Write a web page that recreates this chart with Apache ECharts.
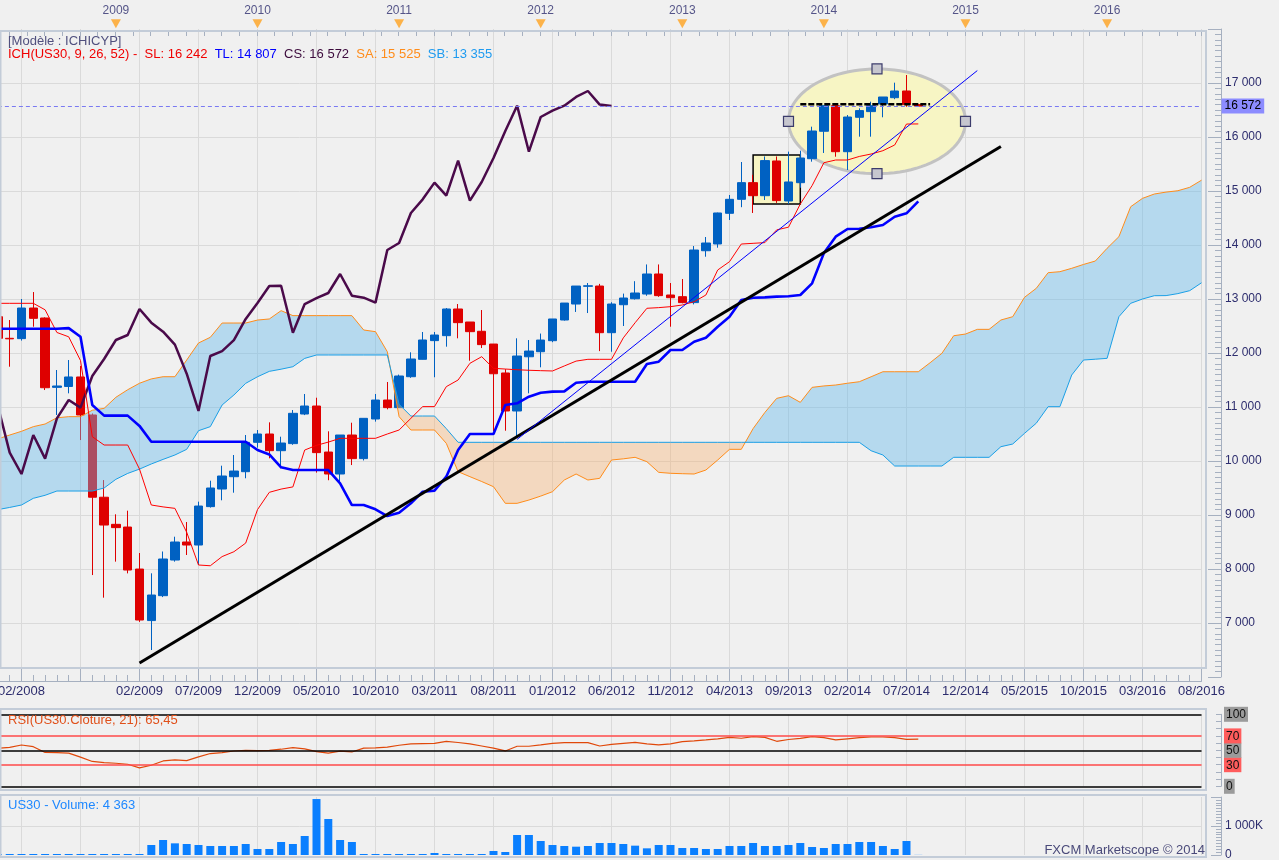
<!DOCTYPE html>
<html><head><meta charset="utf-8">
<script src="https://cdn.jsdelivr.net/npm/echarts@6/dist/echarts.min.js"></script>
<style>html,body{margin:0;padding:0;background:#f0f0f0;}#c{width:1279px;height:860px;}</style>
</head><body><div id="c"></div><script>
const months = ['02/2008','03/2008','04/2008','05/2008','06/2008','07/2008','08/2008','09/2008','10/2008','11/2008','12/2008',
'01/2009','02/2009','03/2009','04/2009','05/2009','06/2009','07/2009','08/2009','09/2009','10/2009','11/2009','12/2009',
'01/2010','02/2010','03/2010','04/2010','05/2010','06/2010','07/2010','08/2010','09/2010','10/2010','11/2010','12/2010',
'01/2011','02/2011','03/2011','04/2011','05/2011','06/2011','07/2011','08/2011','09/2011','10/2011','11/2011','12/2011',
'01/2012','02/2012','03/2012','04/2012','05/2012','06/2012','07/2012','08/2012','09/2012','10/2012','11/2012','12/2012',
'01/2013','02/2013','03/2013','04/2013','05/2013','06/2013','07/2013','08/2013','09/2013','10/2013','11/2013','12/2013',
'01/2014','02/2014','03/2014','04/2014','05/2014','06/2014','07/2014','08/2014','09/2014','10/2014','11/2014','12/2014',
'01/2015','02/2015','03/2015','04/2015','05/2015','06/2015','07/2015','08/2015','09/2015','10/2015','11/2015','12/2015',
'01/2016','02/2016','03/2016','04/2016','05/2016','06/2016','07/2016','08/2016'];

const openP = [12672,12272,12266,12833,12648,11364,11380,11556,10852,9329,8827,8777,7999,7045,7506,8166,8500,8444,9155,9481,9709,9802,10346,10500,10191,10322,10870,11018,10166,9759,10481,10044,10778,11129,10988,11561,11883,12229,12321,12815,12574,12402,12166,11630,10926,11930,12024,12228,12611,12907,13235,13240,12376,12894,13005,13092,13463,13074,13043,12933,13894,14019,14587,14846,15155,14913,15556,14815,15154,15598,16106,16580,15728,16365,16470,16611,16728,16852,16600];
const highP = [12767,12611,13000,13129,12660,11685,11870,11759,10880,9647,9013,9080,8296,7920,8324,8598,8870,9247,9635,9913,10111,10481,10574,10716,10450,10944,11241,11172,10550,10481,10709,10790,11241,11463,11600,12013,12389,12389,12833,12907,12574,12796,12166,11700,12272,12240,12360,12630,12925,13240,13296,13280,12940,13100,13330,13640,13640,13296,13370,13981,14148,14600,14926,15537,15300,15640,15640,15729,15746,16191,16590,16590,16407,16531,16654,16741,17006,17148,16610];
const lowP = [12071,11746,12230,12487,11314,10852,11253,10388,7888,7469,8136,7919,7020,6500,7480,8136,8259,8074,9137,9272,9413,9680,10246,10050,9864,10300,10850,9785,9644,9589,9925,10010,10729,10957,10988,11540,11880,11551,12117,12272,11857,12092,10555,10561,10450,11253,11735,12200,12600,12760,12740,12035,12024,12500,12990,13060,13040,12487,12920,12900,13783,13950,14463,14700,14593,14833,14780,14760,15060,15543,15704,15635,15389,16006,16006,16365,16700,16560,16560];
const closeP = [12272,12262,12833,12642,11357,11389,11556,10852,9329,8814,8766,7981,7055,7518,8185,8500,8444,9166,9500,9722,9814,10346,10500,10191,10333,10883,11018,10155,9759,10481,10044,10790,11129,10988,11574,11889,12241,12333,12815,12562,12395,12155,11616,10926,11944,12036,12240,12630,12925,13240,13245,12376,12907,13018,13111,13463,13062,13024,12933,13907,14037,14593,14846,15155,14913,15563,14822,15167,15611,16111,16580,15728,16370,16489,16580,16741,16852,16600,16572];

const tenkan = [12920,12920,12920,12920,12800,12380,12300,11860,10450,10296,10296,10296,9850,9185,9150,9123,8680,8074,8060,8230,8320,8480,9100,9420,9480,9520,10203,10290,10350,10420,10420,10420,10420,10500,10574,10790,11007,11007,11377,11500,11809,11932,11716,11703,11690,11680,11673,11667,11760,11850,11883,11883,11883,12280,12560,12828,12840,12858,12889,12950,13074,13537,13691,14018,14031,14044,14280,14330,14760,15100,15524,15574,15574,15640,15685,15746,15852,16240,16242];
const kijun = [12450,12450,12450,12450,12450,12450,12460,12300,11037,10840,10840,10840,10650,10357,10357,10357,10357,10357,10357,10357,10357,10357,10203,10122,9883,9833,9833,9833,9833,9586,9185,9185,9105,8981,9043,9216,9432,9451,9710,10203,10500,10500,10500,11037,11068,11191,11265,11284,11290,11450,11468,11468,11468,11468,11468,11796,11839,12055,12055,12209,12283,12487,12672,12981,13024,13030,13044,13050,13074,13290,13850,14154,14296,14300,14330,14370,14524,14586,14807];
const chikou = [11018,10155,9759,10481,10044,10790,11129,10988,11574,11889,12241,12333,12815,12562,12395,12155,11616,10926,11944,12036,12240,12630,12925,13240,13245,12376,12907,13018,13111,13463,13062,13024,12933,13907,14037,14593,14846,15155,14913,15563,14822,15167,15611,16111,16580,15728,16370,16489,16580,16741,16852,16600,16572];
const senkouA = [10410,10481,10550,10636,10685,10800,10821,10821,10940,10975,11180,11320,11440,11520,11561,11561,11870,12185,12291,12555,12555,12555,12610,12630,12784,12692,12692,12692,12692,12692,12692,12426,12395,12024,10821,10574,10574,10574,10327,9802,9710,9620,9524,9216,9216,9277,9350,9432,9648,9759,9648,9679,10018,10040,10068,9987,9790,9772,9765,9759,9833,10018,10216,10216,10600,10900,11160,11209,11086,11364,11390,11407,11440,11468,11560,11653,11653,11653,11653,11820,11994,12320,12351,12438,12438,12611,12672,13031,13198,13487,13506,13568,13640,13703,13939,14154,14709,14864,14944,14980,15005,15068,15200];
const senkouB = [9100,9140,9185,9309,9365,9444,9444,9444,9444,9500,9661,9770,9850,9945,10030,10111,10216,10561,10636,11037,11222,11438,11560,11660,11700,11746,11900,11963,11963,11963,11963,11963,11963,11963,11050,10833,10833,10833,10600,10346,10346,10346,10346,10346,10346,10346,10346,10346,10346,10346,10346,10346,10346,10346,10346,10346,10346,10346,10346,10346,10346,10346,10346,10346,10346,10346,10346,10346,10346,10346,10346,10346,10346,10346,10190,10111,9907,9907,9907,9907,9907,10068,10068,10068,10068,10265,10314,10512,10700,11006,11006,11592,11870,11885,11901,12672,12920,13000,13061,13063,13100,13154,13300];

const rsi = [52.8,54,57.4,55,47,46.8,46,40.5,34.5,32.9,32,30.6,25.5,29.2,35.2,36.6,35.6,40.8,45.5,46.8,49,50,49.5,50,51.5,53.7,52,48.1,46,48.8,47.7,53,53.5,54.5,57,59,59.3,59.5,62.5,60.8,59,56,53,49.1,55.6,55.6,57.5,59.7,60.6,60.6,60.6,56,58.3,59.7,61,58.8,57.4,59,62,63,64.4,66,68,66.7,69,68,62.5,65,66.5,69,67.5,64.4,66,67.5,68.5,68.5,67.6,65.3,65.45];
const volumeK = [35,35,35,35,35,35,35,35,35,35,35,35,35,345,517,402,379,345,310,310,310,379,207,207,448,379,655,1930,1241,517,448,35,35,35,35,35,35,69,35,35,35,35,138,103,690,690,483,345,310,287,310,414,414,379,322,230,345,345,241,241,207,207,310,310,414,310,310,345,414,276,241,379,379,448,448,310,207,483,4.363];

const yearLabels = ['2009','2010','2011','2012','2013','2014','2015','2016'];
const yearMonths = ['12/2008','12/2009','12/2010','12/2011','12/2012','12/2013','12/2014','12/2015'];
const priceTicks = [7000,8000,9000,10000,11000,12000,13000,14000,15000,16000,17000];

const trendBlack = [['02/2009', 6259], ['03/2015', 15824]];
const trendBlue = [['10/2011', 10400], ['01/2015', 17230]];
const supportLine = [['10/2013', 16605], ['09/2014', 16605]];
const boxRect = ['06/2013', '10/2013', 15667, 14759];
const boxEllipse = ['09/2013', '12/2014', 17260, 15320];
const lastClose = 16572;
const headerSA = 15525, headerSB = 13355;
const rsiLast = '65,45', volLast = '4 363';

const FONT = 'Liberation Sans, Arial, sans-serif';
const NAVY = '#2d2d6e';
const AX = '#a6b0c0';
const GRIDC = '#dadada';
const fmt = v => String(v).replace(/\B(?=(\d{3})+(?!\d))/g, ' ');
const ix = m => months.indexOf(m);
const majorFn = i => (i - 2) % 5 === 0;
const labelFn = i => i === 0 || (i >= 12 && (i - 2) % 5 === 0);
const CLOUD_UP = 'rgba(100,186,235,0.42)';
const CLOUD_DN = 'rgba(248,176,111,0.38)';

const GL = -2.1, GR = 77.5;
const chart = echarts.init(document.getElementById('c'));

function renderCloud(params, api) {
  const n = senkouA.length;
  const A = [], B = [], d = [];
  for (let i = 0; i < n; i++) { A.push(api.coord([i, senkouA[i]])); B.push(api.coord([i, senkouB[i]])); d.push(senkouA[i] - senkouB[i]); }
  const polys = [];
  let runA = [A[0]], runB = [B[0]], sign = d[0] >= 0;
  for (let i = 0; i < n - 1; i++) {
    const s1 = d[i + 1] >= 0;
    if (s1 !== sign) {
      const t = d[i] / (d[i] - d[i + 1]);
      const C = [A[i][0] + t * (A[i + 1][0] - A[i][0]), A[i][1] + t * (A[i + 1][1] - A[i][1])];
      runA.push(C); runB.push(C);
      polys.push({ pts: runA.concat(runB.slice().reverse()), sign });
      runA = [C, A[i + 1]]; runB = [C, B[i + 1]]; sign = s1;
    } else { runA.push(A[i + 1]); runB.push(B[i + 1]); }
  }
  polys.push({ pts: runA.concat(runB.slice().reverse()), sign });
  return { type: 'group', children: polys.map(p => ({ type: 'polygon', shape: { points: p.pts }, style: { fill: p.sign ? CLOUD_UP : CLOUD_DN } })) };
}

function renderShapes(params, api) {
  const r0 = api.coord([ix(boxRect[0]), boxRect[2]]), r1 = api.coord([ix(boxRect[1]), boxRect[3]]);
  const e0 = api.coord([ix(boxEllipse[0]), boxEllipse[2]]), e1 = api.coord([ix(boxEllipse[1]), boxEllipse[3]]);
  const cx = (e0[0] + e1[0]) / 2, cy = (e0[1] + e1[1]) / 2, rx = (e1[0] - e0[0]) / 2, ry = (e1[1] - e0[1]) / 2;
  const pts = [];
  for (let k = 0; k < 96; k++) { const a = k / 96 * Math.PI * 2; pts.push([cx + rx * Math.cos(a), cy + ry * Math.sin(a)]); }
  const h = (x, y) => ({ type: 'rect', shape: { x: x - 5, y: y - 5, width: 10, height: 10 }, style: { fill: '#c6c6ce', stroke: '#3c3c6c', lineWidth: 1.2 } });
  return { type: 'group', children: [
    { type: 'polygon', shape: { points: pts }, style: { fill: '#f7f5c4', stroke: '#c2c2c2', lineWidth: 3 } },
    { type: 'rect', shape: { x: r0[0], y: r0[1], width: r1[0] - r0[0], height: r1[1] - r0[1] }, style: { fill: '#f7f5c4', stroke: '#000', lineWidth: 1.5 } },
    h(e0[0], cy), h(e1[0], cy), h(cx, e0[1]), h(cx, e1[1])
  ] };
}

const hiddenCat = (gi) => ({ type: 'category', gridIndex: gi, data: months, boundaryGap: false,
  axisLine: { show: false }, axisTick: { show: false }, axisLabel: { show: false },
  splitLine: { show: true, interval: majorFn, lineStyle: { color: GRIDC, width: 1 } } });

const candleData = openP.map((o, i) => [o, closeP[i], lowP[i], highP[i]]);

const option = {
  backgroundColor: '#f0f0f0',
  animation: false,
  textStyle: { fontFamily: FONT },
  title: [
    { left: 8, top: 35, padding: 0, text: '[Modèle : ICHICYP]', textStyle: { fontSize: 13, fontWeight: 'normal', color: '#50507e', fontFamily: FONT } },
    { left: 8, top: 47.5, padding: 0,
      text: '{r|ICH(US30, 9, 26, 52) -  SL: ' + fmt(tenkan[tenkan.length - 1]) + '}  {b|TL: ' + fmt(kijun[kijun.length - 1]) + '}  {p|CS: ' + fmt(lastClose) + '}  {o|SA: ' + fmt(headerSA) + '}  {s|SB: ' + fmt(headerSB) + '}',
      textStyle: { fontSize: 13, fontWeight: 'normal', fontFamily: FONT, rich: {
        r: { color: '#f00000', fontSize: 13, fontFamily: FONT }, b: { color: '#0000ff', fontSize: 13, fontFamily: FONT },
        p: { color: '#3c0a3c', fontSize: 13, fontFamily: FONT }, o: { color: '#ff8c1a', fontSize: 13, fontFamily: FONT },
        s: { color: '#1e9bf0', fontSize: 13, fontFamily: FONT } } } },
    { left: 8, top: 713.5, padding: 0, text: 'RSI(US30.Cloture, 21): ' + rsiLast, textStyle: { fontSize: 13, fontWeight: 'normal', color: '#e0501a', fontFamily: FONT } },
    { left: 8, top: 798.5, padding: 0, text: 'US30 - Volume: ' + volLast, textStyle: { fontSize: 13, fontWeight: 'normal', color: '#1e88ff', fontFamily: FONT } },
    { right: 74, top: 844, padding: 0, text: 'FXCM Marketscope © 2014', textStyle: { fontSize: 13, fontWeight: 'normal', color: '#4a4a7a', fontFamily: FONT } }
  ],
  graphic: [
    { type: 'rect', silent: true, z: 100, shape: { x: 0.5, y: 31, width: 1205.5, height: 637 }, style: { fill: null, stroke: '#c3ccd8', lineWidth: 2 } },
    { type: 'rect', silent: true, z: 100, shape: { x: 0.5, y: 709, width: 1205.5, height: 81 }, style: { fill: null, stroke: '#c3ccd8', lineWidth: 2 } },
    { type: 'rect', silent: true, z: 100, shape: { x: 0.5, y: 795, width: 1205.5, height: 62 }, style: { fill: null, stroke: '#c3ccd8', lineWidth: 2 } }
  ],
  grid: [
    { left: GL, right: GR, top: 29, height: 648, outerBoundsMode: 'none', containLabel: false },
    { left: GL - 0.55 * 11.8, right: GR, top: 19, height: 12, outerBoundsMode: 'none', containLabel: false },
    { left: GL, right: GR, top: 714.3, height: 72, outerBoundsMode: 'none', containLabel: false },
    { left: GL, right: GR, top: 797, height: 58, outerBoundsMode: 'none', containLabel: false },
    { left: GL, right: GR, top: 668, height: 13, outerBoundsMode: 'none', containLabel: false }
  ],
  xAxis: [
    hiddenCat(0),
    { type: 'value', gridIndex: 1, position: 'top', min: -1.5, max: 101.05, interval: 1.5,
      axisLine: { show: true, lineStyle: { color: AX } }, axisTick: { show: true, inside: true, length: 5, lineStyle: { color: AX } },
      axisLabel: { show: false }, splitLine: { show: false } },
    hiddenCat(2),
    hiddenCat(3),
    { type: 'category', gridIndex: 4, data: months, boundaryGap: false, position: 'bottom',
      axisLine: { show: true, lineStyle: { color: AX } },
      axisTick: { show: true, inside: true, length: 13, interval: majorFn, lineStyle: { color: AX } },
      axisLabel: { show: true, interval: labelFn, color: NAVY, fontSize: 13, margin: 4, alignMinLabel: 'left', fontFamily: FONT },
      splitLine: { show: false } },
    { type: 'category', gridIndex: 4, data: months, boundaryGap: false, position: 'top', offset: -13,
      axisLine: { show: false }, axisTick: { show: true, inside: false, length: 6, interval: 0, lineStyle: { color: AX } },
      axisLabel: { show: false }, splitLine: { show: false } }
  ],
  yAxis: [
    { type: 'value', gridIndex: 0, position: 'right', offset: 19.5, min: 6000, max: 18000, interval: 1000,
      axisLine: { show: true, lineStyle: { color: AX } },
      axisTick: { show: true, inside: true, length: 13, lineStyle: { color: AX } },
      minorTick: { show: true, splitNumber: 10, length: 6, lineStyle: { color: AX } },
      axisLabel: { color: NAVY, fontSize: 12, margin: 4, fontFamily: FONT, formatter: v => priceTicks.indexOf(v) >= 0 ? fmt(v) : '' },
      splitLine: { show: true, lineStyle: { color: ['transparent', GRIDC, GRIDC, GRIDC, GRIDC, GRIDC, GRIDC, GRIDC, GRIDC, GRIDC, GRIDC, GRIDC, 'transparent'] } } },
    { type: 'value', gridIndex: 1, min: 0, max: 1, show: false },
    { type: 'value', gridIndex: 2, position: 'right', offset: 19.5, min: 0, max: 100, interval: 10,
      axisLine: { show: true, lineStyle: { color: AX } },
      axisTick: { show: true, inside: true, length: 5, lineStyle: { color: AX } },
      axisLabel: { margin: 3, fontSize: 12, fontFamily: FONT,
        formatter: v => (v === 100 || v === 50 || v === 0) ? '{g|' + v + '}' : ((v === 70 || v === 30) ? '{r|' + v + '}' : ''),
        rich: { g: { backgroundColor: '#9b9b9b', color: '#111', padding: [2, 2, 1, 2], fontSize: 12, fontFamily: FONT },
                r: { backgroundColor: '#ff5c5c', color: '#111', padding: [2, 2, 1, 2], fontSize: 12, fontFamily: FONT } } },
      splitLine: { show: false } },
    { type: 'value', gridIndex: 3, position: 'right', offset: 19.5, min: 0, max: 2000, interval: 1000,
      axisLine: { show: true, lineStyle: { color: AX } },
      axisTick: { show: true, inside: true, length: 10, lineStyle: { color: AX } },
      minorTick: { show: true, splitNumber: 10, length: 5, lineStyle: { color: AX } },
      axisLabel: { color: NAVY, fontSize: 12, margin: 4, fontFamily: FONT, formatter: v => v === 1000 ? '1 000K' : (v === 0 ? '0' : '') },
      splitLine: { show: true, lineStyle: { color: ['transparent', GRIDC, 'transparent'] } } },
    { type: 'value', gridIndex: 4, show: false }
  ],
  series: [
    { type: 'custom', name: 'shapes', xAxisIndex: 0, yAxisIndex: 0, z: 1, silent: true,
      data: [[ix(boxEllipse[0]), boxEllipse[2]]], encode: { x: 0, y: 1 }, renderItem: renderShapes },
    { type: 'candlestick', name: 'US30', xAxisIndex: 0, yAxisIndex: 0, z: 2, barWidth: 9, data: candleData,
      itemStyle: { color: '#0061c2', color0: '#de0000', borderColor: '#0061c2', borderColor0: '#de0000', borderWidth: 1 },
      markLine: { symbol: 'none', silent: true, animation: false,
        lineStyle: { color: '#7a7af2', type: [4, 3], width: 1 },
        label: { show: true, position: 'end', distance: 20, formatter: fmt(lastClose), backgroundColor: '#8c8cff', color: '#000', padding: [2, 3, 1, 3], fontSize: 12, fontFamily: FONT },
        data: [{ yAxis: lastClose }] } },
    { type: 'custom', name: 'cloud', xAxisIndex: 0, yAxisIndex: 0, z: 3, silent: true,
      data: [[0, senkouA[0], senkouB[0]]], encode: { x: 0, y: [1, 2] }, renderItem: renderCloud },
    { type: 'line', name: 'SA', xAxisIndex: 0, yAxisIndex: 0, z: 4, data: senkouA, symbol: 'none', lineStyle: { color: '#ff8c1a', width: 1 } },
    { type: 'line', name: 'SB', xAxisIndex: 0, yAxisIndex: 0, z: 4, data: senkouB, symbol: 'none', lineStyle: { color: '#1a9fe6', width: 1 } },
    { type: 'line', name: 'CS', xAxisIndex: 0, yAxisIndex: 0, z: 4, data: chikou, symbol: 'none', lineStyle: { color: '#4a0a4a', width: 2.5 } },
    { type: 'line', name: 'SL', xAxisIndex: 0, yAxisIndex: 0, z: 4, data: tenkan, symbol: 'none', lineStyle: { color: '#ff0000', width: 1 } },
    { type: 'line', name: 'TL', xAxisIndex: 0, yAxisIndex: 0, z: 4, data: kijun, symbol: 'none', lineStyle: { color: '#0000ff', width: 2.6 } },
    { type: 'line', name: 'trendBlack', xAxisIndex: 0, yAxisIndex: 0, z: 5, data: trendBlack, symbol: 'none', lineStyle: { color: '#000', width: 3 } },
    { type: 'line', name: 'trendBlue', xAxisIndex: 0, yAxisIndex: 0, z: 5, data: trendBlue, symbol: 'none', lineStyle: { color: '#0000ff', width: 1 } },
    { type: 'line', name: 'support', xAxisIndex: 0, yAxisIndex: 0, z: 5, data: supportLine, symbol: 'none', lineStyle: { color: '#000', width: 2.5, type: [6, 2] } },
    { type: 'scatter', name: 'years', xAxisIndex: 1, yAxisIndex: 1, z: 5, symbol: 'triangle', symbolRotate: 180, symbolSize: [10, 9],
      data: yearMonths.map(m => [ix(m) - 0.95, 0.6]), itemStyle: { color: '#ffa21f' },
      label: { show: true, position: 'top', distance: 3, color: NAVY, fontSize: 12, fontFamily: FONT, formatter: p => yearLabels[p.dataIndex] } },
    { type: 'line', name: 'RSI', xAxisIndex: 2, yAxisIndex: 2, data: rsi, symbol: 'none', lineStyle: { color: '#e0480a', width: 1.2 },
      markLine: { symbol: 'none', silent: true, animation: false, label: { show: false },
        data: [
          { yAxis: 100, lineStyle: { color: '#000', width: 1.5, type: 'solid' } },
          { yAxis: 70, lineStyle: { color: '#ff4a4a', width: 1.5, type: 'solid' } },
          { yAxis: 50, lineStyle: { color: '#000', width: 1.5, type: 'solid' } },
          { yAxis: 30, lineStyle: { color: '#ff4a4a', width: 1.5, type: 'solid' } },
          { yAxis: 0, lineStyle: { color: '#000', width: 1.5, type: 'solid' } }
        ] } },
    { type: 'bar', name: 'Volume', xAxisIndex: 3, yAxisIndex: 3, data: volumeK, barWidth: 8, itemStyle: { color: '#0a7fff' } }
  ]
};
chart.setOption(option);
</script></body></html>
